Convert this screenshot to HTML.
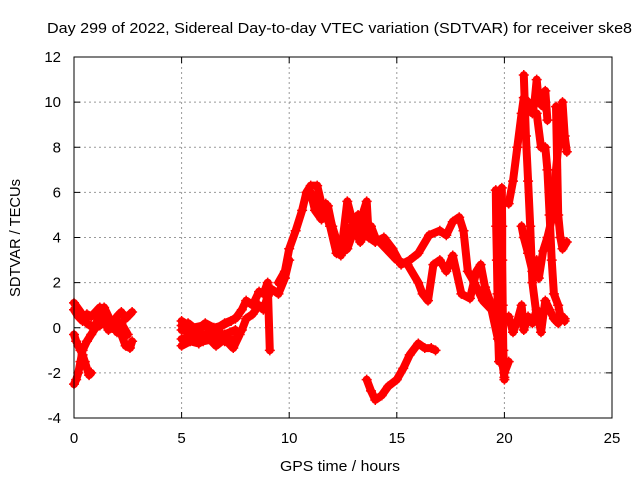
<!DOCTYPE html>
<html><head><meta charset="utf-8"><style>
body{margin:0;background:#fff;width:640px;height:480px;overflow:hidden}
svg{display:block;font-family:"Liberation Sans",sans-serif}
</style></head><body>
<svg id="chart" width="640" height="480" viewBox="0 0 640 480">
<rect width="640" height="480" fill="#fff"/>
<text x="47" y="33" font-size="15" textLength="585" lengthAdjust="spacingAndGlyphs" fill="#000">Day 299 of 2022, Sidereal Day-to-day VTEC variation (SDTVAR) for receiver ske8</text>
<g id="grid"></g>
<g id="ticks"></g>
<g id="series"></g>
<rect x="74" y="57" width="538" height="361" fill="none" stroke="#000" stroke-width="1"/>
<text x="340" y="471" font-size="15" textLength="120" lengthAdjust="spacingAndGlyphs" text-anchor="middle">GPS time / hours</text>
<text transform="translate(20,238) rotate(-90)" font-size="15" textLength="118" lengthAdjust="spacingAndGlyphs" text-anchor="middle">SDTVAR / TECUs</text>
</svg>
<script>
const xTicks=[0,5,10,15,20,25];
const yTicks=[-4,-2,0,2,4,6,8,10,12];
// tracks: times and values
const tA1=[0,0.2,0.4,0.6,0.8,1.0,1.2,1.4,1.6,1.8,2.0,2.2,2.4,2.6,2.7];
const vA1=[0.8,0.5,0.3,0.6,0.5,0.7,0.9,0.6,0.4,0.2,0.5,0.7,0.4,0.6,0.7];
const tA2=[0,0.1,0.2,0.3,0.4,0.5,0.6,0.7,0.8];
const vA2=[-0.3,-0.6,-0.8,-1.0,-1.2,-1.5,-1.8,-2.1,-2.0];
const tA3=[0,0.1,0.2,0.3,0.4,0.6,0.8,1.0,1.2,1.4,1.6,1.8,2.0,2.2,2.4,2.6,2.7];
const vA3=[-2.5,-2.3,-2.0,-1.5,-1.0,-0.6,-0.3,0,0.1,0.3,-0.1,0,0.3,-0.3,-0.8,-0.9,-0.6];
const tA4=[0,0.3,0.6,0.9,1.2,1.4,1.7,2.0,2.2,2.5];
const vA4=[1.1,0.7,0.2,0.0,0.5,0.9,0.3,-0.2,0.2,-0.3];
const tB1=[5,5.5,6,6.5,7,7.5,7.8,8.0,8.3,8.6,8.8,9.0,9.2,9.5,9.8,10.0];
const vB1=[-0.5,-0.4,-0.6,-0.5,-0.6,-0.5,-0.1,0.4,0.6,1.0,0.8,1.4,1.7,1.5,2.2,3.0];
const tB2=[5,5.5,6,6.5,7,7.5,7.8,8.0,8.3,8.6,8.8,9.0,9.1];
const vB2=[0.3,0.0,0.1,-0.1,0.2,0.4,0.8,1.2,1.0,1.6,1.5,2.0,-1.0];
const tB3=[5,5.5,6,6.5,7,7.5];
const vB3=[-0.1,-0.2,-0.3,-0.2,-0.3,-0.1];
const tB4=[5,5.4,5.8,6.2,6.6,7.0,7.4,7.7];
const vB4=[-0.8,-0.6,-0.7,-0.4,-0.8,-0.5,-0.9,-0.3];
const tB5=[5,5.3,5.7,6.1,6.5,6.9,7.3,7.6];
const vB5=[0.1,0.2,-0.1,0.2,0.0,0.1,0.3,0.5];
const tC1=[9.5,9.8,10.0,10.3,10.6,10.8,11.0,11.3,11.5,11.7,11.9,12.2,12.5,12.8,13.2,13.5,13.8,14.0,14.5,15.0,15.5,16.0,16.2,16.45,16.7,17.0,17.3,17.6,18.0,18.4,18.7,18.9,19.1,19.4,19.6,19.8,20.0,20.2];
const vC1=[2.0,2.5,3.5,4.3,5.2,6.0,6.3,6.3,5.5,5.0,4.5,3.3,3.7,4.3,5.0,4.2,4.5,4.0,3.5,3.0,2.8,2.0,1.5,1.2,2.8,3.0,2.5,3.2,1.5,1.3,2.5,2.8,1.8,1.0,0.3,-1.0,-2.0,-1.5];
const tC2=[11.2,11.5,11.7,12.0,12.4,12.7,13.0,13.3,13.6,13.7,14.0,14.4,14.8,15.2,15.6,16.0,16.5,17.0,17.3,17.6,17.9,18.1,18.3,18.6,19.0,19.4,19.7,19.9,20.0];
const vC2=[5.8,5.0,5.5,4.5,3.3,3.5,4.3,4.7,5.6,4.0,3.8,4.0,3.5,2.8,3.0,3.3,4.1,4.3,4.1,4.7,4.9,4.3,2.5,2.0,1.2,0.8,-0.5,-1.5,-2.2];
const tC3=[11.0,11.2,11.5,11.8,12.1,12.4,12.7,13.0,13.3,13.6];
const vC3=[6.0,5.2,4.8,5.4,4.0,3.2,5.6,4.5,3.8,4.3];
const tD=[13.6,13.8,14.0,14.3,14.6,15.0,15.3,15.6,16.0,16.3,16.6,16.8];
const vD=[-2.3,-2.8,-3.2,-3.0,-2.6,-2.3,-1.8,-1.2,-0.7,-0.9,-0.9,-1.0];
const tE1=[19.6,19.62,19.65,19.68,19.7,19.75];
const vE1=[6.1,4.5,3.0,1.5,0,-1.5];
const tE2=[19.88,19.9,19.9,19.92,19.95,20.0];
const vE2=[6.2,4.5,3.0,1.0,-1.0,-2.3];
const tE3=[20.2,20.4,20.6,20.8,20.9,21.1,21.3,21.5,21.7,21.9,22.1,22.3,22.5,22.7,22.8];
const vE3=[0.5,-0.2,0.3,1.0,-0.1,0.5,0.2,0.8,-0.2,1.2,0.8,0.4,0.2,0.5,0.3];
const tE4=[20.2,20.4,20.6,20.8,20.9,21.1,21.3,21.4,21.5,21.6,21.8,21.9,22.0];
const vE4=[5.5,6.5,8.0,9.5,10.2,10.0,9.5,10.0,11.0,10.0,9.8,10.5,9.2];
const tE5=[20.8,20.9,21.1,21.3,21.5,21.6,21.8,22.0,22.2,22.3,22.4,22.5,22.6,22.7,22.8,22.9];
const vE5=[4.5,4.0,3.3,2.5,3.0,2.2,3.4,4.0,4.8,5.5,7.0,8.0,9.0,10.0,8.5,7.8];
const tE6=[20.9,21.0,21.1,21.2,21.3,21.5,21.7];
const vE6=[11.2,8.5,6.5,4.5,2.0,0.5,0.3];
const tE7=[21.5,21.7,21.9,22.0,22.1,22.2,22.3,22.5,22.6,22.8];
const vE7=[9.5,8.0,8.0,7.0,5.0,3.0,1.5,1.0,0.5,0.4];
const tE8=[22.4,22.5,22.6,22.7,22.9];
const vE8=[9.8,5.0,4.0,3.5,3.8];
const tracks=[[tA1,vA1],[tA2,vA2],[tA3,vA3],[tA4,vA4],[tB1,vB1],[tB2,vB2],[tB3,vB3],[tB4,vB4],[tB5,vB5],[tC1,vC1],[tC2,vC2],[tC3,vC3],[tD,vD],[tE1,vE1],[tE2,vE2],[tE3,vE3],[tE4,vE4],[tE5,vE5],[tE6,vE6],[tE7,vE7],[tE8,vE8]];

const X0=74,X1=612,Y0=418,Y1=57;
const xs=t=>X0+t/25*(X1-X0);
const ys=v=>Y0-(v+4)/16*(Y0-Y1);
const NS='http://www.w3.org/2000/svg';
function mk(tag,attrs,parent){const e=document.createElementNS(NS,tag);for(const k in attrs)e.setAttribute(k,attrs[k]);parent.appendChild(e);return e;}
const grid=document.getElementById('grid'),ticks=document.getElementById('ticks'),ser=document.getElementById('series');
xTicks.forEach(t=>{const x=xs(t);
 if(t>0&&t<25){const g=mk('line',{x1:x,x2:x,y1:Y1,y2:Y0,stroke:'#999','stroke-dasharray':'2,3'},grid);
 
 }
 mk('line',{x1:x,x2:x,y1:Y0,y2:Y0-6,stroke:'#000'},ticks);
 mk('line',{x1:x,x2:x,y1:Y1,y2:Y1+6,stroke:'#000'},ticks);
 const l=mk('text',{x:x,y:Y0+25,'font-size':15,'text-anchor':'middle'},ticks);l.textContent=t;
 
 });
yTicks.forEach(v=>{const y=ys(v);
 if(v>-4&&v<12){const g=mk('line',{x1:X0,x2:X1,y1:y,y2:y,stroke:'#999','stroke-dasharray':'2,3'},grid);
 
 }
 mk('line',{x1:X0,x2:X0+6,y1:y,y2:y,stroke:'#000'},ticks);
 mk('line',{x1:X1,x2:X1-6,y1:y,y2:y,stroke:'#000'},ticks);
 const l=mk('text',{x:61,y:y+5,'font-size':15,'text-anchor':'end'},ticks);l.textContent=v;
 
 });
tracks.forEach(([T,V])=>{
 const pts=T.map((t,i)=>xs(t).toFixed(1)+','+ys(V[i]).toFixed(1)).join(' ');
 const pl=mk('polyline',{points:pts,fill:'none',stroke:'#f00','stroke-width':8,'stroke-linejoin':'round','stroke-linecap':'round'},ser);
 
 
 T.forEach((t,i)=>{const x=xs(t),y=ys(V[i]);
  const p=mk('path',{d:`M${x-5},${y}h10M${x},${y-5}v10`,stroke:'#f00','stroke-width':1.5},ser);
  
  });
});
</script>
</body></html>
